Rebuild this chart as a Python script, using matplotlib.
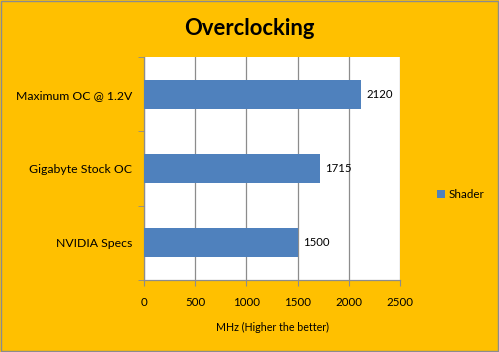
import numpy as np
import matplotlib
matplotlib.use('Agg')
import matplotlib.pyplot as plt
from matplotlib.patches import Rectangle

categories = ['NVIDIA Specs', 'Gigabyte Stock OC', 'Maximum OC @ 1.2V']
shader = [1500, 1715, 2120]
xticks = [0, 500, 1000, 1500, 2000, 2500]

plt.rcParams['font.family'] = ['Lato', 'DejaVu Sans']

bg = '#FFC000'
blue = '#4F81BD'
grey = '#8C8C8C'

fig = plt.figure(figsize=(4.99, 3.52), dpi=100, facecolor=bg)
ax = fig.add_axes([0.2886, 0.2045, 0.513, 0.6335])
ax.set_facecolor('white')

y = np.arange(len(categories))
bars = ax.barh(y, shader, height=0.39, color=blue, zorder=3, label='Shader')
for yi, v in zip(y, shader):
    ax.text(v + 50, yi, str(v), va='center', ha='left', fontsize=8.2, color='black', zorder=4)

ax.set_xlim(0, 2500)
ax.set_ylim(-0.5, len(categories) - 0.5)
ax.set_xticks(xticks)
ax.set_xticklabels([str(t) for t in xticks], fontsize=8.3)
ax.xaxis.grid(True, color=grey, linewidth=0.9, zorder=0)
ax.tick_params(axis='x', direction='out', length=4, color=grey, pad=8)

# category labels centered, ticks at boundaries
ax.set_yticks(y)
ax.set_yticklabels(categories, fontsize=8.8)
ax.tick_params(axis='y', length=0, pad=8.5)
ax.set_yticks(np.arange(-0.5, len(categories)), minor=True)
ax.tick_params(axis='y', which='minor', direction='out', length=4, color=grey)

for s in ['top', 'right']:
    ax.spines[s].set_visible(False)
for s in ['left', 'bottom']:
    ax.spines[s].set_color(grey)
    ax.spines[s].set_linewidth(0.9)

ax.set_xlabel('MHz (Higher the better)', fontsize=7.7, labelpad=10)
fig.text(0.5, 0.918, 'Overclocking', ha='center', va='center', fontsize=15.8, fontweight='bold')

leg = fig.legend(handles=[bars], labels=['Shader'], loc='center left',
                 bbox_to_anchor=(0.855, 0.448), frameon=False, fontsize=8.4,
                 handlelength=0.7, handleheight=0.7, handletextpad=0.3)

fig.patches.append(Rectangle((0.002, 0.003), 0.996, 0.994, transform=fig.transFigure,
                             fill=False, edgecolor=grey, linewidth=1))

fig.savefig('out.png', dpi=100, facecolor=bg)
